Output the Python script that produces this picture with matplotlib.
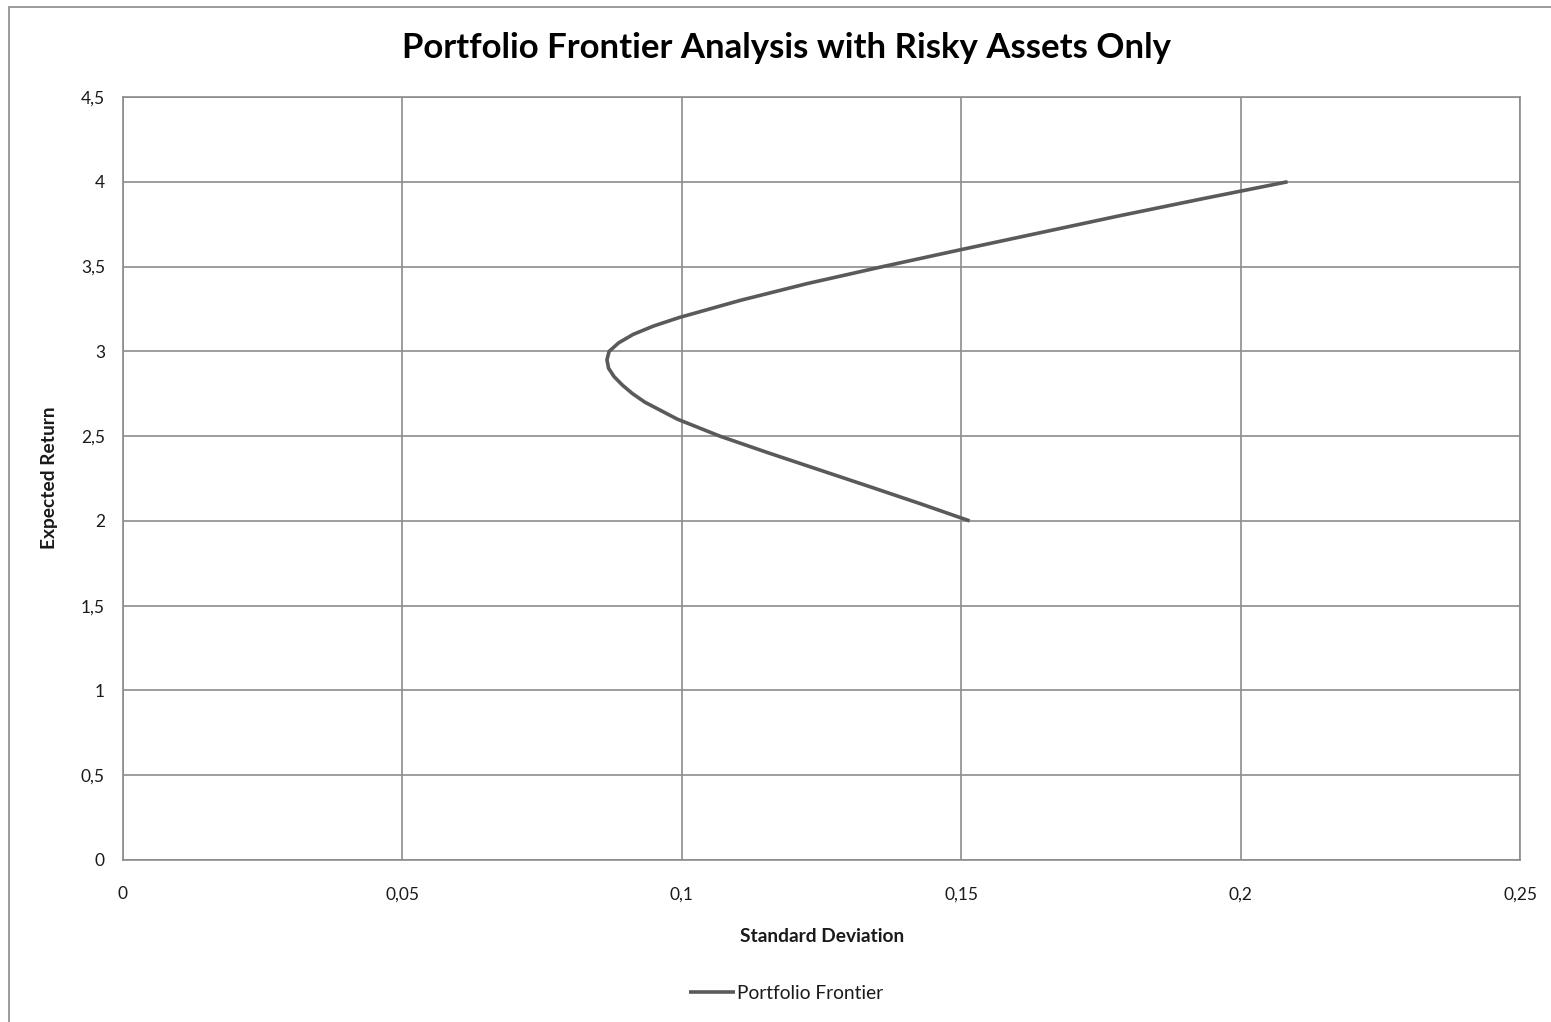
import matplotlib.pyplot as plt
from matplotlib.patches import Rectangle
from matplotlib.ticker import FuncFormatter

# values
expected_return = [2.0, 2.1, 2.2, 2.3, 2.4, 2.5, 2.6, 2.7, 2.75, 2.8, 2.85, 2.9, 2.95,
                   3.0, 3.05, 3.1, 3.15, 3.2, 3.3, 3.4, 3.5, 3.6, 3.7, 3.8, 3.9, 4.0]
std_dev = [0.1515, 0.1428, 0.1338, 0.1247, 0.1156, 0.1068, 0.0992, 0.0934, 0.0912,
           0.0894, 0.0879, 0.0869, 0.0866, 0.0870, 0.0887, 0.0913, 0.0950, 0.0996,
           0.1104, 0.1225, 0.1360, 0.1500, 0.1642, 0.1784, 0.1932, 0.2084]
x_ticks = [0, 0.05, 0.1, 0.15, 0.2, 0.25]
y_ticks = [0, 0.5, 1, 1.5, 2, 2.5, 3, 3.5, 4, 4.5]

plt.rcParams['font.family'] = ['Lato', 'DejaVu Sans']
grid_col = '#8c8c8c'
text_col = '#1a1a1a'

fig = plt.figure(figsize=(15.51, 10.22), dpi=100)
ax = fig.add_axes([123 / 1551, 1 - 860 / 1022, (1520 - 123) / 1551, (860 - 97) / 1022])

line, = ax.plot(std_dev, expected_return, color='#5a5a5a', linewidth=2.6,
                solid_capstyle='butt', solid_joinstyle='round',
                label='Portfolio Frontier', zorder=3)

ax.set_xlim(0, 0.25)
ax.set_ylim(0, 4.5)
ax.set_xticks(x_ticks)
ax.set_yticks(y_ticks)


def comma_fmt(v, pos):
    s = ('%.2f' % v).rstrip('0').rstrip('.')
    return s.replace('.', ',')


ax.xaxis.set_major_formatter(FuncFormatter(comma_fmt))
ax.yaxis.set_major_formatter(FuncFormatter(comma_fmt))
ax.tick_params(axis='both', length=0, labelsize=12.5, colors=text_col)
ax.tick_params(axis='x', pad=19)
ax.tick_params(axis='y', pad=13)
ax.grid(True, color=grid_col, linewidth=1.2)
ax.set_axisbelow(True)
for sp in ax.spines.values():
    sp.set_color(grid_col)
    sp.set_linewidth(1.2)

fig.text(786 / 1551, 1 - 48 / 1022, 'Portfolio Frontier Analysis with Risky Assets Only',
         ha='center', va='center', fontsize=25, fontweight='bold', color='black')
fig.text(822 / 1551, 1 - 936 / 1022, 'Standard Deviation', ha='center', va='center',
         fontsize=13.8, fontweight='bold', color=text_col)
fig.text(50 / 1551, 1 - 478 / 1022, 'Expected Return', ha='center', va='center',
         rotation=90, fontsize=13.8, fontweight='bold', color=text_col)

fig.legend(handles=[line], loc='center', bbox_to_anchor=(786 / 1551, 1 - 993 / 1022),
           frameon=False, fontsize=13.8, handlelength=2.4, handletextpad=0.1,
           labelcolor=text_col)

# outer chart border
fig.patches.append(Rectangle((9 / 1551, -0.05), 1.1, 1 - 7 / 1022 + 0.05,
                             transform=fig.transFigure, fill=False,
                             edgecolor='#8a8a8a', linewidth=1.2))

fig.savefig('out.png', dpi=100)
